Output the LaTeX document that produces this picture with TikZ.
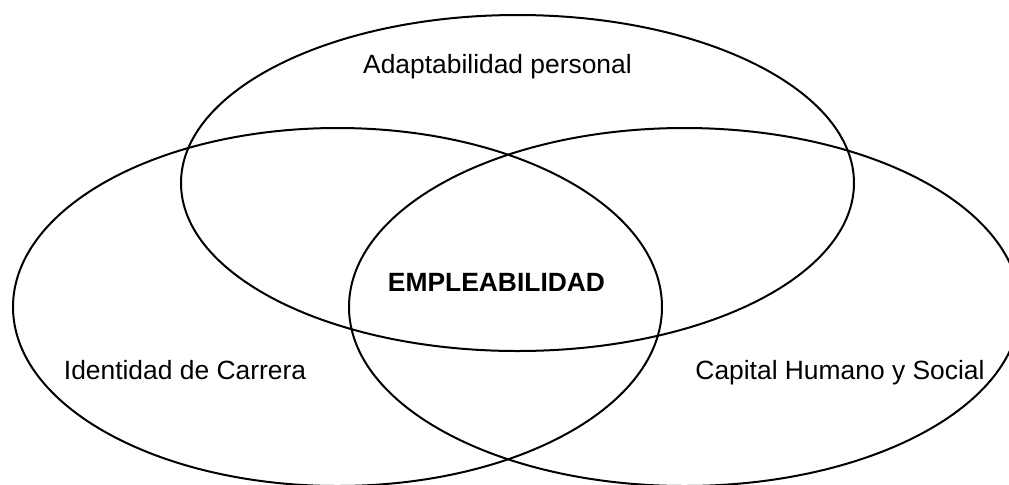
\documentclass[tikz,border=0pt]{standalone}
\usepackage{fontspec}
\setmainfont{Liberation Sans}
\usetikzlibrary{shapes.geometric,positioning}
\tikzset{
    myset/.style={ellipse, draw=black, line width=1pt, inner sep=0pt},
    mylabel/.style={anchor=base, inner sep=0pt, font=\fontsize{13.2}{15}\selectfont}
}

\begin{document}
\begin{tikzpicture}[x=0.5pt, y=-0.5pt]
    \clip (0,0) rectangle (1009,484);
    % the three sets
    \node[myset, minimum width=336.5pt, minimum height=168pt] (adapt) at (517.5,183) {};
    \node[myset, minimum width=324.5pt, minimum height=179pt] (identity) at (337.5,307) {};
    \node[myset, minimum width=335.5pt, minimum height=179pt] (capital) at (684.5,307) {};
    % labels
    \node[mylabel] (adaptlabel) at (497.5,73) {Adaptabilidad personal};
    \node[mylabel] (identitylabel) at (185,379) {Identidad de Carrera};
    \node[mylabel] (capitallabel) at (840,379) {Capital Humano y Social};
    \node[mylabel, font=\fontsize{13.2}{15}\selectfont\bfseries] (employ) at (496.5,291) {EMPLEABILIDAD};
\end{tikzpicture}
\end{document}
